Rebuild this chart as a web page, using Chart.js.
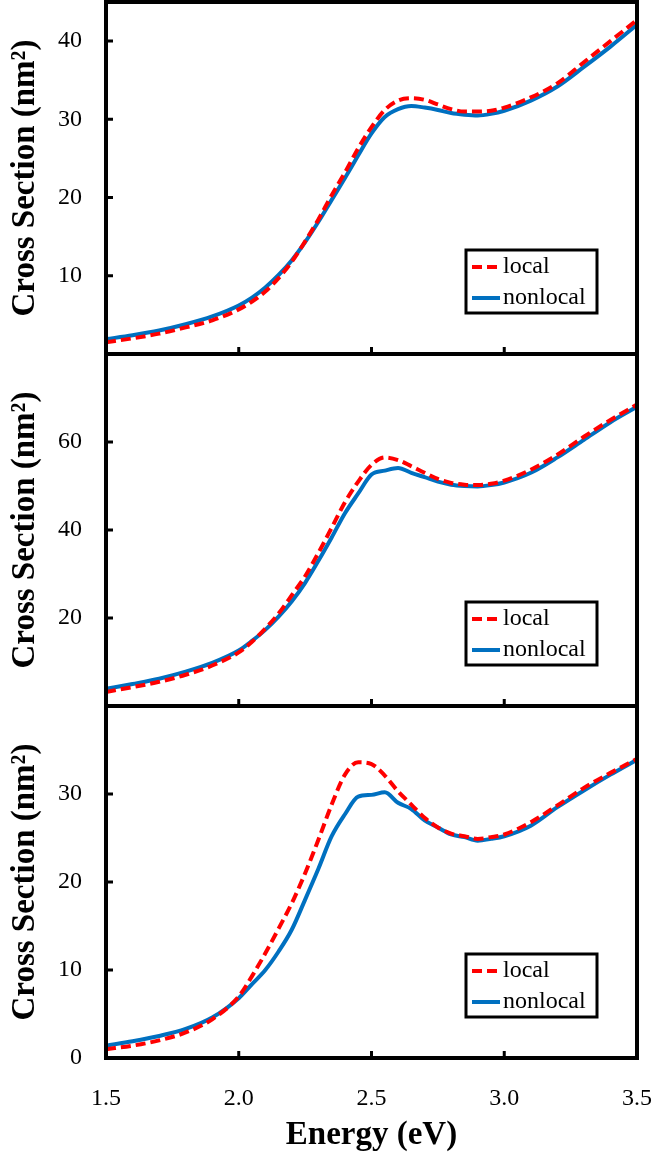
<!DOCTYPE html>
<html>
<head>
<meta charset="utf-8">
<script src="https://cdn.jsdelivr.net/npm/chart.js@4.4.1/dist/chart.umd.min.js"></script>
<style>
    html, body { margin: 0; padding: 0; background: #ffffff; }
    #cross-section-chart { display: block; }
</style>
</head>
<body>
<canvas id="cross-section-chart" width="656" height="1158"></canvas>
<script>
// Photon energy (eV) shared by all three panels
const energy = [1.5, 1.6, 1.7, 1.8, 1.9, 2.0, 2.05, 2.1, 2.15, 2.2, 2.25, 2.3, 2.35, 2.4, 2.45,
    2.5, 2.55, 2.6, 2.65, 2.7, 2.75, 2.8, 2.85, 2.9, 2.95, 3.0, 3.1, 3.2, 3.3, 3.4, 3.5];

// Top panel
const localTop = [1.5, 2.0, 2.6, 3.4, 4.3, 5.7, 6.7, 8.0, 9.7, 11.8, 14.4, 17.2, 20.3, 23.2, 26.3,
    29.0, 31.2, 32.4, 32.7, 32.5, 31.9, 31.3, 31.0, 31.0, 31.1, 31.5, 32.8, 34.6, 37.3, 40.0, 42.7];
const nonlocalTop = [1.9, 2.4, 3.0, 3.8, 4.8, 6.2, 7.2, 8.5, 10.1, 12.0, 14.3, 16.9, 19.7, 22.5, 25.4,
    28.2, 30.3, 31.3, 31.7, 31.5, 31.2, 30.8, 30.6, 30.5, 30.7, 31.1, 32.4, 34.2, 36.7, 39.3, 42.1];

// Middle panel
const localMid = [3.2, 4.3, 5.5, 7.1, 9.2, 12.2, 14.6, 17.6, 21.0, 25.2, 29.5, 34.8, 40.5, 46.3, 51.0,
    54.8, 56.5, 55.9, 54.5, 53.0, 51.6, 50.7, 50.3, 50.2, 50.5, 51.2, 53.7, 57.1, 61.2, 65.0, 68.5];
const nonlocalMid = [3.9, 5.0, 6.2, 7.8, 9.8, 12.6, 14.8, 17.3, 20.3, 23.8, 28.0, 33.0, 38.3, 43.8, 48.3,
    52.6, 53.5, 54.1, 53.0, 52.0, 51.0, 50.3, 50.0, 49.9, 50.2, 50.8, 53.0, 56.5, 60.5, 64.5, 68.0];

// Bottom panel
const localBottom = [1.0, 1.4, 2.0, 2.9, 4.4, 7.0, 9.3, 11.9, 14.7, 17.6, 21.0, 24.8, 28.8, 32.2, 33.6,
    33.4, 32.1, 30.3, 28.8, 27.3, 26.2, 25.5, 25.2, 24.9, 25.1, 25.4, 26.8, 28.7, 30.7, 32.4, 34.0];
const nonlocalBottom = [1.4, 1.9, 2.5, 3.3, 4.6, 6.8, 8.4, 10.0, 12.1, 14.6, 18.0, 21.5, 25.2, 27.7, 29.7,
    29.9, 30.2, 29.0, 28.3, 27.0, 26.2, 25.4, 25.1, 24.7, 24.9, 25.2, 26.4, 28.5, 30.4, 32.2, 33.9];

// Tick labels
const energyTicks = [1.5, 2.0, 2.5, 3.0, 3.5];
const topTicks = [10, 20, 30, 40];
const midTicks = [20, 40, 60];
const bottomTicks = [0, 10, 20, 30];

const SERIF = '"Liberation Serif", "Times New Roman", serif';
const LOCAL_COLOR = '#ff0000';
const NONLOCAL_COLOR = '#0070c0';

const panels = [
    { id: 'yTop', max: 45, weight: 3, ticks: topTicks, local: localTop, nonlocal: nonlocalTop },
    { id: 'yMid', max: 80, weight: 2, ticks: midTicks, local: localMid, nonlocal: nonlocalMid },
    { id: 'yBottom', max: 40, weight: 1, ticks: bottomTicks, local: localBottom, nonlocal: nonlocalBottom },
];

const toPoints = (values) => values.map((v, i) => ({ x: energy[i], y: v }));

/**
 * Builds the two datasets (local / nonlocal) that belong to one panel.
 */
function panelDatasets(panel) {
    return [
        {
            label: 'local',
            data: toPoints(panel.local),
            yAxisID: panel.id,
            borderColor: LOCAL_COLOR,
            borderDash: [10, 5],
            borderWidth: 4,
        },
        {
            label: 'nonlocal',
            data: toPoints(panel.nonlocal),
            yAxisID: panel.id,
            borderColor: NONLOCAL_COLOR,
            borderWidth: 4,
        },
    ];
}

// Labels may hang past the plot edges; keep the plot box where the layout puts it
function noOverhang(scale) {
    scale.paddingTop = 0;
    scale.paddingBottom = 0;
    scale.paddingLeft = 0;
    scale.paddingRight = 0;
}

/**
 * One stacked y axis per panel; all share the same left column.
 */
function panelScale(panel) {
    return {
        type: 'linear',
        position: 'left',
        stack: 'panels',
        stackWeight: 1,
        weight: panel.weight,
        min: 0,
        max: panel.max,
        afterBuildTicks: (scale) => {
            scale.ticks = panel.ticks.map((v) => ({ value: v }));
        },
        afterFit: (scale) => {
            scale.width = 106;
            noOverhang(scale);
        },
        grid: { display: false, drawTicks: false },
        border: { display: false },
        ticks: {
            padding: 24,
            color: '#000',
            font: { family: SERIF, size: 24 },
        },
        title: {
            display: true,
            text: 'Cross Section (nm²)',
            color: '#000',
            padding: { top: 6, bottom: 0 },
            font: { family: SERIF, size: 33, weight: 'bold' },
        },
    };
}

/**
 * Draws each panel's frame, the inward tick marks and the boxed legend.
 */
const panelFrame = {
    id: 'panelFrame',
    afterDraw(chart) {
        const { ctx, chartArea, scales } = chart;
        const xScale = scales.x;
        ctx.save();
        ctx.strokeStyle = '#000';
        ctx.lineCap = 'butt';

        panels.forEach((panel) => {
            const yScale = scales[panel.id];

            ctx.lineWidth = 3;
            ctx.beginPath();
            yScale.ticks.forEach((t) => {
                const py = yScale.getPixelForValue(t.value);
                ctx.moveTo(chartArea.left, py);
                ctx.lineTo(chartArea.left + 7, py);
            });
            xScale.ticks.forEach((t) => {
                if (t.value <= xScale.min || t.value >= xScale.max) return;
                const px = xScale.getPixelForValue(t.value);
                ctx.moveTo(px, yScale.bottom);
                ctx.lineTo(px, yScale.bottom - 7);
            });
            ctx.stroke();

            ctx.lineWidth = 4;
            ctx.strokeRect(chartArea.left, yScale.top, chartArea.right - chartArea.left, yScale.bottom - yScale.top);

            drawLegend(ctx, chart, panel, chartArea.right - 171, yScale.bottom - 104);
        });
        ctx.restore();
    },
};

function drawLegend(ctx, chart, panel, left, top) {
    const items = chart.data.datasets.filter((d) => d.yAxisID === panel.id);
    ctx.save();
    ctx.lineWidth = 3;
    ctx.strokeStyle = '#000';
    ctx.fillStyle = '#fff';
    ctx.fillRect(left, top, 131, 63);
    ctx.strokeRect(left, top, 131, 63);

    ctx.font = `24px ${SERIF}`;
    ctx.textBaseline = 'middle';
    items.forEach((d, i) => {
        const y = top + 17 + i * 31;
        ctx.beginPath();
        ctx.setLineDash(d.borderDash || []);
        ctx.strokeStyle = d.borderColor;
        ctx.lineWidth = 4;
        ctx.moveTo(left + 6, y);
        ctx.lineTo(left + 34, y);
        ctx.stroke();
        ctx.setLineDash([]);
        ctx.fillStyle = '#000';
        ctx.fillText(d.label, left + 37, y);
    });
    ctx.restore();
}

const scales = {
    x: {
        type: 'linear',
        min: 1.5,
        max: 3.5,
        afterBuildTicks: (scale) => {
            scale.ticks = energyTicks.map((v) => ({ value: v }));
        },
        afterFit: (scale) => {
            scale.height = 100;
            noOverhang(scale);
        },
        grid: { display: false, drawTicks: false },
        border: { display: false },
        ticks: {
            padding: 26,
            color: '#000',
            maxRotation: 0,
            autoSkip: false,
            font: { family: SERIF, size: 24 },
            callback: (v) => Number(v).toFixed(1),
        },
        title: {
            display: true,
            text: 'Energy (eV)',
            color: '#000',
            padding: { top: 0, bottom: 3 },
            font: { family: SERIF, size: 33, weight: 'bold' },
        },
    },
};
panels.forEach((p) => {
    scales[p.id] = panelScale(p);
});

new Chart(document.getElementById('cross-section-chart'), {
    type: 'line',
    data: {
        datasets: panels.flatMap(panelDatasets),
    },
    options: {
        responsive: false,
        animation: false,
        devicePixelRatio: 1,
        layout: { padding: { top: 2, right: 19, bottom: 0, left: 0 } },
        elements: {
            point: { radius: 0 },
            line: { tension: 0.4, cubicInterpolationMode: 'monotone', fill: false },
        },
        plugins: {
            legend: { display: false },
            tooltip: { enabled: false },
        },
        scales: scales,
    },
    plugins: [panelFrame],
});
</script>
</body>
</html>
